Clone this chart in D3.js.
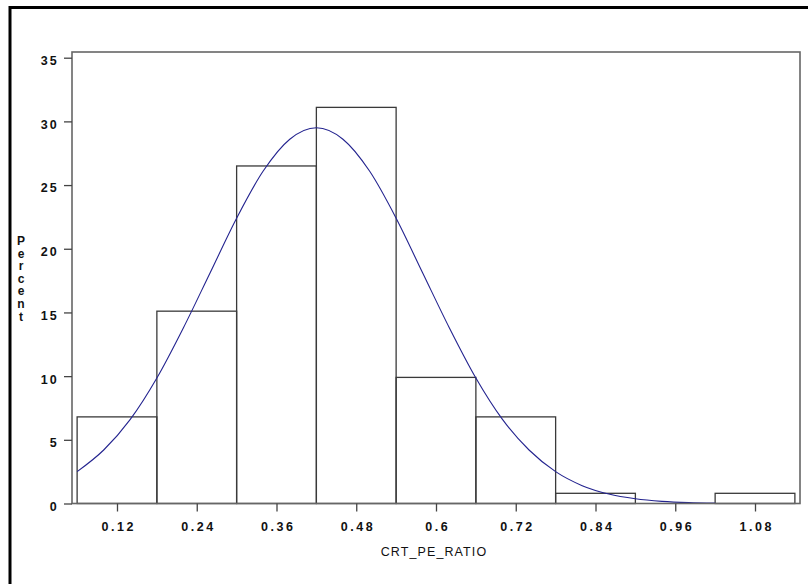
<!DOCTYPE html>
<html><head><meta charset="utf-8">
<script src="https://cdn.jsdelivr.net/npm/d3@7"></script>
<style>
html,body{margin:0;padding:0;background:#fff;}
svg{display:block;}
</style></head>
<body>
<svg id="c" width="808" height="584"></svg>
<script>
// ---- data ----
const binMids = [0.12, 0.24, 0.36, 0.48, 0.60, 0.72, 0.84, 0.96, 1.08];
const binWidth = 0.12;
const percents = [6.8, 15.1, 26.5, 31.1, 9.9, 6.8, 0.8, 0, 0.8];
const xTickLabels = ["0.12", "0.24", "0.36", "0.48", "0.6", "0.72", "0.84", "0.96", "1.08"];
const yTicks = [0, 5, 10, 15, 20, 25, 30, 35];
// fitted curve, points
const curveX = [0.06,0.10,0.14,0.18,0.22,0.26,0.30,0.34,0.38,0.42,0.46,0.50,0.54,0.58,0.62,0.66,0.70,0.74,0.78,0.82,0.86,0.90,0.94,0.98,1.02];
const curveY = [2.5,4.2,6.6,9.85,13.8,18.1,22.4,26.1,28.6,29.5,28.6,26.1,22.4,18.1,13.8,9.85,6.6,4.2,2.5,1.4,0.74,0.37,0.17,0.07,0.03];
const xTitle = "CRT_PE_RATIO";
const yTitle = "Percent";

const svg = d3.select("#c");
const L = 72, R = 800, T = 52, B = 503.5;

const x = d3.scaleLinear().domain([0.0523, 1.1477]).range([L, R]);
const y = d3.scaleLinear().domain([0, 35]).range([B, 57.7]);

// outer border (left & top visible)
svg.append("path").attr("d", `M10,584 L10,7.5 L808,7.5`).attr("fill","none").attr("stroke","#000").attr("stroke-width",3);

// bars
svg.append("g").selectAll("rect").data(binMids.map((m,i)=>({m, v:percents[i]})).filter(d=>d.v>0))
  .join("rect")
  .attr("x", d => x(d.m - binWidth/2))
  .attr("width", d => x(d.m + binWidth/2) - x(d.m - binWidth/2))
  .attr("y", d => y(d.v))
  .attr("height", d => y(0) - y(d.v))
  .attr("fill", "none").attr("stroke", "#3a3a3a").attr("stroke-width", 1.3);

// curve
const pts = curveX.map((cx,i)=>[cx, curveY[i]]);
svg.append("path").datum(pts)
  .attr("d", d3.line().x(d=>x(d[0])).y(d=>y(d[1])).curve(d3.curveMonotoneX))
  .attr("fill","none").attr("stroke","#23238f").attr("stroke-width",1.1);

// frame
svg.append("rect").attr("x",L).attr("y",T).attr("width",R-L).attr("height",B-T)
  .attr("fill","none").attr("stroke","#666").attr("stroke-width",1.6);

const FONT = "Liberation Sans, Arial, sans-serif";

// y axis
const yAxis = d3.axisLeft(y).tickValues(yTicks).tickSize(8).tickPadding(8).tickFormat(d3.format("d"));
const gy = svg.append("g").attr("transform",`translate(${L},0)`).call(yAxis);
gy.select(".domain").remove();
gy.selectAll(".tick line").attr("stroke","#444").attr("stroke-width",1.3);
gy.selectAll(".tick text").attr("font-family",FONT)
  .attr("font-size",12.5).attr("font-weight","bold").attr("fill","#111")
  .attr("letter-spacing","2.2px").attr("dy","0.55em").attr("x",-13);

// x axis
const xAxis = d3.axisBottom(x).tickValues(binMids).tickSize(8).tickPadding(8)
  .tickFormat((d,i)=>xTickLabels[i]);
const gx = svg.append("g").attr("transform",`translate(0,${B})`).call(xAxis);
gx.select(".domain").remove();
gx.selectAll(".tick line").attr("stroke","#444").attr("stroke-width",1.3);
gx.selectAll(".tick text").attr("font-family",FONT)
  .attr("font-size",12.5).attr("font-weight","bold").attr("fill","#111")
  .attr("letter-spacing","2.6px").attr("dx","1.3px").attr("dy","0.9em");

// x title
svg.append("text").attr("x",(L+R)/2 - 2).attr("y",556)
  .attr("text-anchor","middle").attr("font-family",FONT)
  .attr("font-size",12.5).attr("fill","#111").attr("letter-spacing","1.1px").text(xTitle);

// y title stacked letters
const yt = svg.append("text").attr("font-family",FONT)
  .attr("font-size",12).attr("font-weight","bold").attr("fill","#111").attr("text-anchor","middle");
yTitle.split("").forEach((ch,i)=>{
  yt.append("tspan").attr("x",21).attr("y",245 + i*12.6).text(ch);
});
</script>
</body></html>
